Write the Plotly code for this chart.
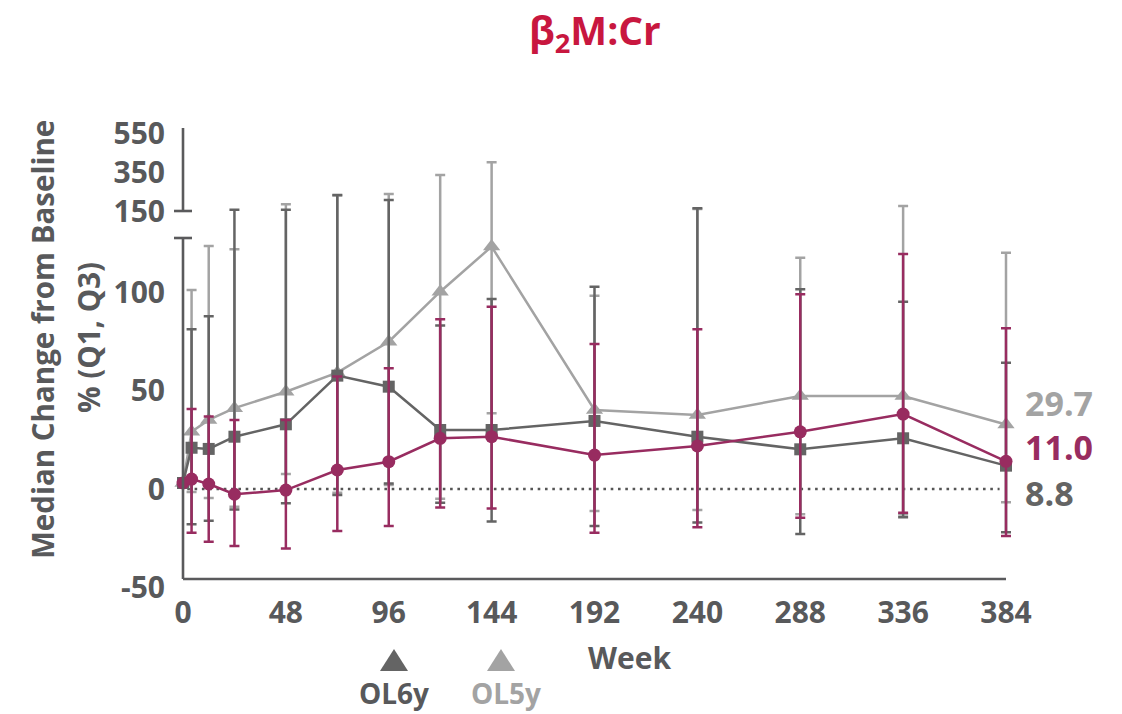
import plotly.graph_objects as go

# ---------------- data ----------------
weeks = [0, 4, 12, 24, 48, 72, 96, 120, 144, 192, 240, 288, 336, 384]
x_tick_vals = [0, 48, 96, 144, 192, 240, 288, 336, 384]

ol6y_median = [0, 17.9, 17.3, 23.5, 29.8, 54.5, 48.9, 26.9, 26.9, 31.5, 23.5, 17.1, 22.7, 8.8]
ol6y_q3 = [None, 78, 84.6, 156, 157, 232, 206, 80, 93.4, 99.6, 164, 98.3, 92, 61.1]
ol6y_q1 = [None, -21, -19.2, -13.4, -10.3, -6.1, -0.2, -10, -19.6, -21.8, -20, -25.9, -17.4, -25]

ol5y_median = [0, 26, 32, 38.0, 46.3, 56, 71.7, 97.1, 120, 37.1, 34.5, 44.2, 44.2, 29.7]
ol5y_q3 = [None, 98, 120.3, 118.6, 184, 230, 237, 334.6, 399.6, 95, 160, 114.4, 175.6, 116.9]
ol5y_q1 = [None, -4.6, -7.6, -12, 4.6, -5, -1, -8, 35.4, -14.2, -13.7, -15.9, -16, -9.8]

all_median = [0, 2.0, -0.5, -5.7, -3.6, 6.6, 10.8, 22.7, 23.5, 14.2, 18.8, 26, 35, 11.0]
all_q3 = [None, 37.6, 33.7, 32, 32, 54, 58.2, 83.1, 89.5, 70.6, 78, 95.8, 116.2, 78.5]
all_q1 = [None, -25.2, -29.8, -32, -33.2, -24.4, -21.8, -12.4, -12.9, -25.2, -22.5, -17.6, -15.1, -26.9]

y_ticks_low = [-50, 0, 50, 100]
y_ticks_high = [150, 350, 550]
end_labels = ["29.7", "11.0", "8.8"]

# ---------------- layout geometry (pixels) ----------------
W, H = 1122, 714
PLOT_L, PLOT_R, PLOT_T, PLOT_B = 168, 1012, 128, 586
X0_PX, XEND_PX = 183, 1006
ZERO_PX = 483
PX_PER_UNIT = 1.97
LOW_TOP_PX = 238
HIGH_START_PX = 211
HIGH_PX_PER_UNIT = 0.195
AXIS_BOTTOM_PX = 579

px_per_week = (XEND_PX - X0_PX) / 384
x_range = [(PLOT_L - X0_PX) / px_per_week, (PLOT_R - X0_PX) / px_per_week]
y_range = [(ZERO_PX - PLOT_B) / PX_PER_UNIT, (ZERO_PX - PLOT_T) / PX_PER_UNIT]

low_top = (ZERO_PX - LOW_TOP_PX) / PX_PER_UNIT
d150 = (ZERO_PX - HIGH_START_PX) / PX_PER_UNIT
k_high = HIGH_PX_PER_UNIT / PX_PER_UNIT
axis_bottom = (ZERO_PX - AXIS_BOTTOM_PX) / PX_PER_UNIT


def disp(v):
    """broken-axis transform: real value -> display coordinate"""
    if v is None:
        return None
    if v <= low_top:
        return v
    if v >= 150:
        return d150 + (v - 150) * k_high
    return low_top + (v - low_top) * (d150 - low_top) / (150 - low_top)


def errs(med, q1, q3):
    plus, minus = [], []
    for m, a, b in zip(med, q1, q3):
        if a is None or b is None:
            plus.append(None)
            minus.append(None)
        else:
            plus.append(disp(b) - disp(m))
            minus.append(disp(m) - disp(a))
    return plus, minus


def pxx(px):
    return (px - PLOT_L) / (PLOT_R - PLOT_L)


def pxy(py):
    return (PLOT_B - py) / (PLOT_B - PLOT_T)


DARK = "#646464"
LIGHT = "#a3a3a3"
PURPLE = "#982c60"
AXIS = "#5a5a5c"
TEXT = "#58595b"
TITLE = "#c8173f"
FONT = "Open Sans"

fig = go.Figure()

series = [
    ("OL5y", ol5y_median, ol5y_q1, ol5y_q3, LIGHT, "triangle-up", 15),
    ("OL6y", ol6y_median, ol6y_q1, ol6y_q3, DARK, "square", 12),
    ("All", all_median, all_q1, all_q3, PURPLE, "circle", 13),
]
for name, med, q1, q3, col, sym, size in series:
    plus, minus = errs(med, q1, q3)
    fig.add_trace(go.Scatter(
        x=weeks, y=[disp(v) for v in med], name=name, mode="lines+markers",
        line=dict(color=col, width=2.5),
        marker=dict(symbol=sym, size=size, color=col),
        error_y=dict(type="data", symmetric=False, array=plus, arrayminus=minus,
                     color=col, thickness=2.5, width=5),
        showlegend=False, cliponaxis=False,
    ))

# invisible trace on yaxis2 so that its tick labels render
fig.add_trace(go.Scatter(x=[0], y=[0], yaxis="y2", mode="markers",
                         marker=dict(opacity=0), showlegend=False, hoverinfo="skip"))

shapes = []
# lower y axis segment
shapes.append(dict(type="line", xref="x", yref="y", x0=0, x1=0, y0=axis_bottom, y1=low_top,
                   line=dict(color=AXIS, width=2.6)))
shapes.append(dict(type="line", xref="x", yref="y", xsizemode="pixel", xanchor=0,
                   x0=-9, x1=9, y0=low_top, y1=low_top, line=dict(color=AXIS, width=2.6)))
# upper y axis segment
shapes.append(dict(type="line", xref="x", yref="y", x0=0, x1=0, y0=d150, y1=y_range[1],
                   line=dict(color=AXIS, width=2.6)))
shapes.append(dict(type="line", xref="x", yref="y", xsizemode="pixel", xanchor=0,
                   x0=-9, x1=9, y0=d150, y1=d150, line=dict(color=AXIS, width=2.6)))
# x axis line
shapes.append(dict(type="line", xref="x", yref="y", x0=0, x1=384, y0=axis_bottom, y1=axis_bottom,
                   line=dict(color=AXIS, width=2.6)))
# dotted zero reference
shapes.append(dict(type="line", xref="x", yref="y", ysizemode="pixel", yanchor=0,
                   x0=2, x1=381, y0=-6, y1=-6, layer="below",
                   line=dict(color="#555555", width=2.6, dash="2.6px,4.7px")))


def tri(cx, cy, w, h, col):
    path = "M {:.5f},{:.5f} L {:.5f},{:.5f} L {:.5f},{:.5f} Z".format(
        pxx(cx - w / 2), pxy(cy + h / 2), pxx(cx + w / 2), pxy(cy + h / 2), pxx(cx), pxy(cy - h / 2))
    return dict(type="path", xref="paper", yref="paper", path=path,
                fillcolor=col, line=dict(width=0))


shapes.append(tri(394, 660, 28, 22, DARK))
shapes.append(tri(501, 660, 28, 22, LIGHT))

annotations = []
# title
annotations.append(dict(xref="paper", yref="paper", x=pxx(595), y=pxy(32), showarrow=False,
                        text="<b>β<sub>2</sub>M:Cr</b>", font=dict(family=FONT, size=39, color=TITLE),
                        xanchor="center", yanchor="middle"))
# y title
annotations.append(dict(xref="paper", yref="paper", x=pxx(42), y=pxy(340), showarrow=False,
                        text="<b>Median Change from Baseline</b>", textangle=-90,
                        font=dict(family=FONT, size=29.5, color=TEXT),
                        xanchor="center", yanchor="middle"))
annotations.append(dict(xref="paper", yref="paper", x=pxx(88), y=pxy(338), showarrow=False,
                        text="<b>% (Q1, Q3)</b>", textangle=-90,
                        font=dict(family=FONT, size=29.5, color=TEXT),
                        xanchor="center", yanchor="middle"))
# legend & week
annotations.append(dict(xref="paper", yref="paper", x=pxx(394), y=pxy(693), showarrow=False,
                        text="<b>OL6y</b>", font=dict(family=FONT, size=28, color=TEXT),
                        xanchor="center", yanchor="middle"))
annotations.append(dict(xref="paper", yref="paper", x=pxx(506), y=pxy(693), showarrow=False,
                        text="<b>OL5y</b>", font=dict(family=FONT, size=28, color=LIGHT),
                        xanchor="center", yanchor="middle"))
annotations.append(dict(xref="paper", yref="paper", x=pxx(629), y=pxy(657), showarrow=False,
                        text="<b>Week</b>", font=dict(family=FONT, size=30, color=TEXT),
                        xanchor="center", yanchor="middle"))
# end-of-line value labels
end_info = [(ol5y_median[-1], LIGHT, 21), (all_median[-1], PURPLE, 14), (ol6y_median[-1], DARK, -27)]
for txt, (val, col, ys) in zip(end_labels, end_info):
    annotations.append(dict(xref="x", yref="y", x=weeks[-1], y=disp(val), showarrow=False,
                            text="<b>" + txt + "</b>", font=dict(family=FONT, size=34, color=col),
                            xanchor="left", yanchor="middle", xshift=18, yshift=ys, borderpad=0))

fig.update_layout(
    width=W, height=H,
    margin=dict(l=PLOT_L, r=W - PLOT_R, t=PLOT_T, b=H - PLOT_B, pad=0),
    paper_bgcolor="white", plot_bgcolor="white",
    font=dict(family=FONT, color=TEXT),
    xaxis=dict(range=x_range, showgrid=False, zeroline=False, showline=False,
               tickvals=x_tick_vals, ticktext=["<b>%d</b>" % v for v in x_tick_vals],
               tickfont=dict(family=FONT, size=30, color=TEXT), ticks="",
               ticklabelstandoff=6),
    yaxis=dict(range=y_range, showgrid=False, zeroline=False, showline=False,
               tickvals=[disp(v) for v in y_ticks_low],
               ticktext=["<b>%d</b>" % v for v in y_ticks_low],
               tickfont=dict(family=FONT, size=30, color=TEXT), ticks="",
               ticklabelshift=6, ticklabelstandoff=2),
    yaxis2=dict(range=y_range, overlaying="y", side="left", showgrid=False, zeroline=False,
                showline=False, tickvals=[disp(v) for v in y_ticks_high],
                ticktext=["<b>%d</b>" % v for v in y_ticks_high],
                tickfont=dict(family=FONT, size=30, color=TEXT), ticks="",
                ticklabelstandoff=2),
    shapes=shapes, annotations=annotations,
)

fig.write_html("out.html")
